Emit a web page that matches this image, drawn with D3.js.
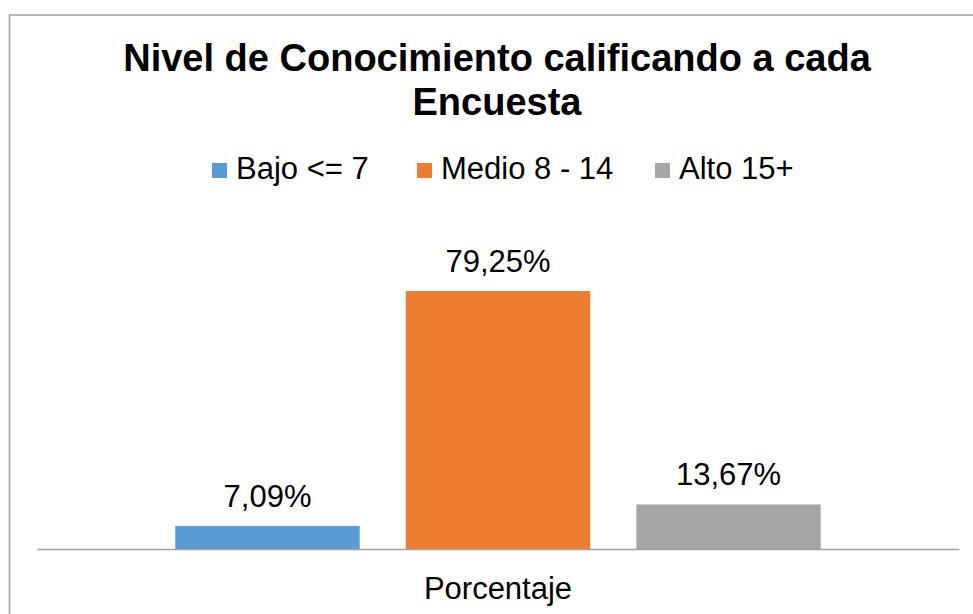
<!DOCTYPE html>
<html>
<head>
<meta charset="utf-8">
<script src="https://cdn.jsdelivr.net/npm/d3@7"></script>
<style>
  body { margin: 0; background: #fff; }
  text { font-family: "Liberation Sans", Arial, sans-serif; fill: #000; }
</style>
</head>
<body>
<div id="chart"></div>
<script>
// Data
var categories = ["Porcentaje"];
var series = ["Bajo <= 7", "Medio 8 - 14", "Alto 15+"];
var values = [0.0709, 0.7925, 0.1367];
var labels = ["7,09%", "79,25%", "13,67%"];
var colors = ["#5b9bd5", "#ed7d31", "#a5a5a5"];

var svgWidth = 973;
var svgHeight = 614;

var svg = d3.select("#chart")
  .append("svg")
  .attr("width", svgWidth)
  .attr("height", svgHeight);

// Chart frame (extends past the picture on right and bottom)
svg.append("rect")
  .attr("x", 9.5)
  .attr("y", 15)
  .attr("width", 1000)
  .attr("height", 700)
  .attr("fill", "#fff")
  .attr("stroke", "#a0a0a0")
  .attr("stroke-width", 1.5);

// Plot area
var plot = { left: 37, right: 959, top: 256, bottom: 549 };

var x0 = d3.scaleBand()
  .domain(categories)
  .range([plot.left, plot.right]);

var x1 = d3.scaleBand()
  .domain(series)
  .range([0, x0.bandwidth()])
  .paddingInner(0.2)
  .paddingOuter(0.6);

var y = d3.scaleLinear()
  .domain([0, 0.9])
  .range([plot.bottom, plot.top]);

// Title
var title = svg.append("text")
  .attr("text-anchor", "middle")
  .style("font-size", "38px")
  .style("font-weight", "bold");
title.append("tspan").attr("x", 497).attr("y", 71).text("Nivel de Conocimiento calificando a cada");
title.append("tspan").attr("x", 497).attr("y", 115).text("Encuesta");

// Legend
var legendX = [212, 417, 655];
var legend = svg.selectAll(".legend")
  .data(series)
  .enter()
  .append("g")
  .attr("class", "legend")
  .attr("transform", (d, i) => `translate(${legendX[i]}, 163)`);

legend.append("rect")
  .attr("width", 15)
  .attr("height", 15)
  .attr("fill", (d, i) => colors[i]);

legend.append("text")
  .attr("x", 24)
  .attr("y", 16)
  .style("font-size", "31px")
  .text(d => d);

// Bars
var groups = svg.selectAll(".group")
  .data(categories)
  .enter()
  .append("g")
  .attr("transform", d => `translate(${x0(d)}, 0)`);

groups.selectAll("rect")
  .data(series.map((s, i) => ({ key: s, value: values[i], label: labels[i], color: colors[i] })))
  .enter()
  .append("rect")
  .attr("x", d => x1(d.key))
  .attr("y", d => y(d.value))
  .attr("width", x1.bandwidth())
  .attr("height", d => y(0) - y(d.value))
  .attr("fill", d => d.color);

groups.selectAll(".val")
  .data(series.map((s, i) => ({ key: s, value: values[i], label: labels[i] })))
  .enter()
  .append("text")
  .attr("class", "val")
  .attr("x", d => x1(d.key) + x1.bandwidth() / 2)
  .attr("y", d => y(d.value) - 19)
  .attr("text-anchor", "middle")
  .style("font-size", "31px")
  .text(d => d.label);

// Category axis
var xAxis = svg.append("g")
  .attr("transform", `translate(0, ${plot.bottom})`)
  .call(d3.axisBottom(x0).tickSize(0).tickPadding(28));

xAxis.select(".domain")
  .attr("stroke", "#a0a0a0")
  .attr("stroke-width", 1.5);

xAxis.selectAll("text")
  .style("font-size", "31px")
  .style("font-family", "'Liberation Sans', Arial, sans-serif")
  .attr("fill", "#000");
</script>
</body>
</html>
